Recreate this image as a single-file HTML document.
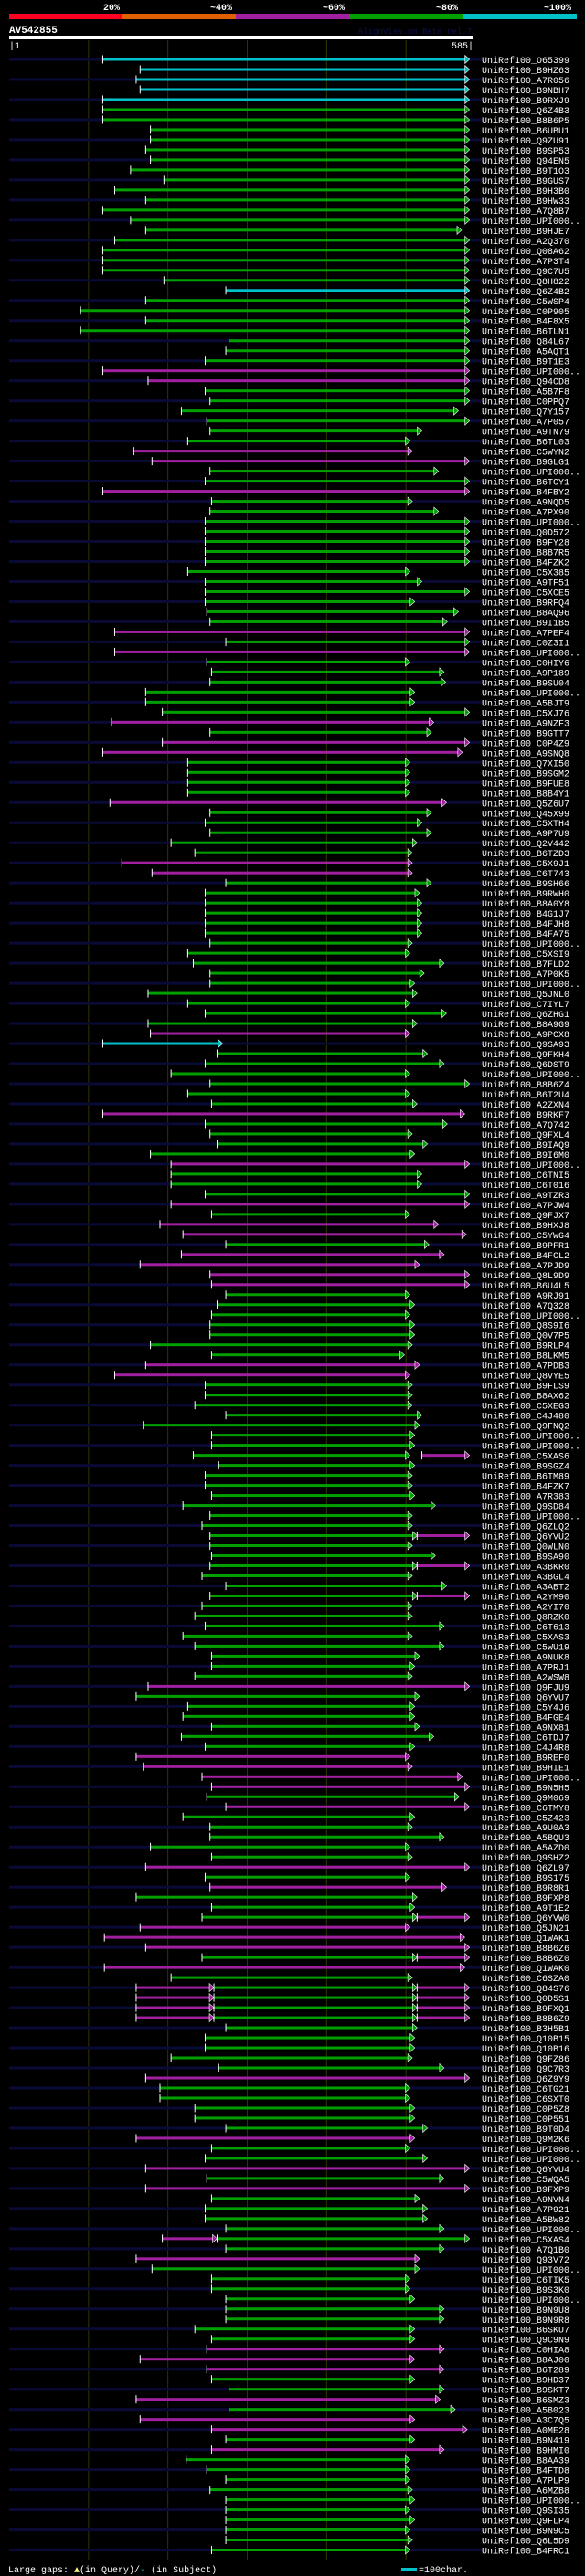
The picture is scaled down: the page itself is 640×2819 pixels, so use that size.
<!DOCTYPE html>
<html>
<head>
<meta charset="utf-8">
<style>
  html,body{margin:0;padding:0;background:#000;}
  body{width:640px;height:2819px;overflow:hidden;}
  svg{display:block;}
  text{font-family:"Liberation Mono","DejaVu Sans Mono",monospace;}
</style>
</head>
<body>
<svg id="chart" width="640" height="2819" viewBox="0 0 640 2819" xmlns="http://www.w3.org/2000/svg">
  <rect x="0" y="0" width="640" height="2819" fill="#000"/>
  <g>
    <rect x="10" y="15" width="124" height="6" fill="#ff0022"/>
    <rect x="134" y="15" width="124" height="6" fill="#e06000"/>
    <rect x="258" y="15" width="124" height="6" fill="#a020a0"/>
    <rect x="382" y="15" width="124" height="6" fill="#00a000"/>
    <rect x="506" y="15" width="125" height="6" fill="#00c0c8"/>
    <g font-size="10" font-weight="bold" fill="#fff">
      <text x="113" y="11">20%</text>
      <text x="230" y="11">~40%</text>
      <text x="353" y="11">~60%</text>
      <text x="477" y="11">~80%</text>
      <text x="595" y="11">~100%</text>
    </g>
  </g>
  <text x="10" y="36" font-size="11" font-weight="bold" fill="#fff">AV542855</text>
  <text x="516" y="37" font-size="9" fill="#101048" text-anchor="end">AlignView.pm Beta rel.7</text>
  <rect x="10" y="39" width="508" height="4" fill="#fff"/>
  <text x="10" y="53" font-size="10" fill="#fff">|1</text>
  <text x="518" y="53" font-size="10" fill="#fff" text-anchor="end">585|</text>
  <g id="grid"></g>
  <g id="rows"></g>
  <g>
    <text x="9" y="2815" font-size="10" fill="#fff">Large gaps: <tspan fill="#ffff80">▲</tspan>(in Query)/<tspan fill="#00c0c8">-</tspan> (in Subject)</text>
    <rect x="439" y="2810" width="17" height="3" fill="#00c0c8"/>
    <text x="458" y="2815" font-size="10" fill="#fff">=100char.</text>
  </g>
</svg>
<script>
const queryLength = 585;
const gridTicks = [100, 200, 300, 400, 500];
const names = ["O65399","B9HZ63","A7R056","B9NBH7","B9RXJ9","Q6Z4B3","B8B6P5","B6UBU1","Q9ZU91","B9SP53",
"Q94EN5","B9T1O3","B9GUS7","B9H3B0","B9HW33","A7Q8B7","UPI000..","B9HJE7","A2Q370","Q08A62",
"A7P3T4","Q9C7U5","Q8H822","Q6Z4B2","C5WSP4","C0P905","B4F8X5","B6TLN1","Q84L67","A5AQT1",
"B9T1E3","UPI000..","Q94CD8","A5B7F8","C0PPQ7","Q7Y157","A7P057","A9TN79","B6TL03","C5WYN2",
"B9GLG1","UPI000..","B6TCY1","B4FBY2","A9NQD5","A7PX90","UPI000..","Q0D572","B9FY28","B8B7R5",
"B4FZK2","C5X385","A9TF51","C5XCE5","B9RFQ4","B8AQ96","B9I1B5","A7PEF4","C0Z3I1","UPI000..",
"C0HIY6","A9P189","B9SU04","UPI000..","A5BJT9","C5XJ76","A9NZF3","B9GTT7","C0P4Z9","A9SNQ8",
"Q7XI50","B9SGM2","B9FUE8","B8B4Y1","Q5Z6U7","Q45X99","C5XTH4","A9P7U9","Q2V442","B6TZD3",
"C5X9J1","C6T743","B9SH66","B9RWH0","B8A0Y8","B4G1J7","B4FJH8","B4FA75","UPI000..","C5XSI9",
"B7FLD2","A7P0K5","UPI000..","Q5JNL0","C7IYL7","Q6ZHG1","B8A9G9","A9PCX8","Q9SA93","Q9FKH4",
"Q6DST9","UPI000..","B8B6Z4","B6T2U4","A2ZXN4","B9RKF7","A7Q742","Q9FXL4","B9IAQ9","B9I6M0",
"UPI000..","C6TNI5","C6T016","A9TZR3","A7PJW4","Q9FJX7","B9HXJ8","C5YWG4","B9PFR1","B4FCL2",
"A7PJD9","Q8L9D9","B6U4L5","A9RJ91","A7Q328","UPI000..","Q8S9I6","Q0V7P5","B9RLP4","B8LKM5",
"A7PDB3","Q8VYE5","B9FLS9","B8AX62","C5XEG3","C4J480","Q9FNQ2","UPI000..","UPI000..","C5XAS6",
"B9SGZ4","B6TM89","B4FZK7","A7R383","Q9SD84","UPI000..","Q6ZLQ2","Q6YVU2","Q0WLN0","B9SA90",
"A3BKR0","A3BGL4","A3ABT2","A2YM90","A2YI70","Q8RZK0","C6T613","C5XAS3","C5WU19","A9NUK8",
"A7PRJ1","A2WSW8","Q9FJU9","Q6YVU7","C5Y4J6","B4FGE4","A9NX81","C6TDJ7","C4J4R8","B9REF0",
"B9HIE1","UPI000..","B9N5H5","Q9M069","C6TMY8","C5Z423","A9U0A3","A5BQU3","A5AZD0","Q9SHZ2",
"Q6ZL97","B9S175","B9R8R1","B9FXP8","A9T1E2","Q6YVW0","Q5JN21","Q1WAK1","B8B6Z6","B8B6Z0",
"Q1WAK0","C6SZA0","Q84S76","Q0D5S1","B9FXQ1","B8B6Z9","B3H5B1","Q10B15","Q10B16","Q9FZ86",
"Q9C7R3","Q6Z9Y9","C6TG21","C6SXT0","C0P5Z8","C0P551","B9T0D4","Q9M2K6","UPI000..","UPI000..",
"Q6YVU4","C5WQA5","B9FXP9","A9NVN4","A7P921","A5BW82","UPI000..","C5XAS4","A7Q1B0","Q93V72",
"UPI000..","C6TIK5","B9S3K0","UPI000..","B9N9U8","B9N9R8","B6SKU7","Q9C9N9","C0HIA8","B8AJ00",
"B6T289","B9HD37","B9SKT7","B6SMZ3","A5B023","A3C7Q5","A0ME28","B9N419","B9HMI0","B8AA39",
"B4FTD8","A7PLP9","A6MZB8","UPI000..","Q9SI35","Q9FLP4","B9N9C5","Q6L5D9","B4FRC1"];
const starts = [118,165,160,165,118,118,118,178,178,172,
178,153,195,133,172,118,153,172,133,118,
118,118,195,273,172,90,172,90,277,273,
247,118,175,247,253,217,249,253,225,157,
180,253,247,118,255,253,247,247,247,247,
247,225,247,247,247,249,253,133,273,133,
249,255,253,172,172,193,129,253,193,118,
225,225,225,225,127,253,247,253,204,234,
142,180,273,247,247,247,247,247,253,225,
232,253,253,175,225,247,175,178,118,262,
247,204,253,225,255,118,247,253,262,178,
204,204,204,247,204,255,190,219,273,217,
165,253,255,273,262,255,253,253,178,255,
172,133,247,247,234,273,169,255,255,232,
264,247,247,255,219,253,243,253,253,255,
253,243,273,253,243,234,247,219,234,255,
255,234,175,160,225,219,255,217,247,160,
169,243,255,249,273,219,253,253,178,255,
172,247,253,160,255,243,165,120,172,243,
120,204,258,258,258,258,273,247,247,204,
264,172,190,190,234,234,273,160,255,247,
172,249,172,255,247,247,273,262,273,160,
180,255,255,273,273,273,234,255,249,165,
249,255,277,160,277,165,255,273,255,223,
249,273,253,273,273,273,273,273,255];
const ends = [580,580,580,580,580,580,580,580,580,580,
580,580,580,580,580,580,580,570,580,580,
580,580,580,580,580,580,580,580,580,580,
580,580,580,580,580,566,580,520,505,508,
580,541,580,580,508,541,580,580,580,580,
580,505,520,580,511,566,552,580,580,580,
505,548,550,511,511,580,535,532,580,571,
505,505,505,505,551,532,520,532,514,508,
508,508,532,517,520,520,520,520,508,505,
548,523,511,514,505,551,514,505,269,527,
548,505,580,505,514,574,552,508,527,511,
580,520,520,580,580,505,541,576,529,548,
517,580,580,505,511,505,511,511,508,498,
517,505,508,508,508,520,517,511,511,505,
511,508,508,511,537,508,508,514,508,537,
514,508,551,514,508,508,548,508,548,517,
511,508,580,517,511,511,517,535,511,505,
508,571,580,567,580,511,508,548,505,508,
580,505,551,514,511,514,505,574,580,514,
574,508,514,514,514,514,514,511,511,508,
548,580,505,505,511,511,527,511,505,527,
580,548,580,517,527,527,548,580,548,517,
517,505,505,511,548,548,511,511,548,511,
548,511,548,543,562,511,577,511,548,505,
505,505,508,511,505,511,505,508,505];
// identity band per row, run-length: colour letter + count
const bandRuns = ["c5","g18","c1","g7","p2","g6","p2","g2","p1","g13",
"p1","g1","p1","g6","p1","g1","p2","g4","p1","g5",
"p2","g15","p1","c1","g6","p1","g4","p1","g3","p1",
"g1","p2","g1","p4","g7","p2","g30","p1","g6","p4",
"g1","p1","g5","p1","g1","p1","g3","p3","g1","p1",
"g10","p1","g5","p1","g2","p1","g1","p1","g6","p1",
"g8","p3","g2","p1","g1","p2","g1","p1","g10"];
const extraSegments = [
  "139:520-580p", "147:514-580p", "150:514-580p", "153:514-580p", "185:514-580p", "189:514-580p",
  "192:160-258p", "192:514-580p", "193:160-258p", "193:514-580p",
  "194:160-258p", "194:514-580p", "195:160-258p", "195:514-580p",
  "217:193-262p"
];

const NS = "http://www.w3.org/2000/svg";
const X0 = 10, X1 = 518;
function xScale(r){ return X0 + r * (X1 - X0) / queryLength; }
function yScale(i){ return 65 + i * 10.99; }
const colorOf = {c:"#00c0c8", g:"#00a000", p:"#a020a0"};
const bands = [];
bandRuns.forEach(function(run){
  const n = parseInt(run.slice(1), 10);
  for (let k = 0; k < n; k++) bands.push(run[0]);
});

const grid = document.getElementById("grid");
gridTicks.forEach(function(t){
  const l = document.createElementNS(NS, "line");
  l.setAttribute("x1", xScale(t)); l.setAttribute("x2", xScale(t));
  l.setAttribute("y1", 44); l.setAttribute("y2", 2802);
  l.setAttribute("stroke", "#333300"); l.setAttribute("stroke-width", "1");
  
  
  grid.appendChild(l);
});

const rows = document.getElementById("rows");
function drawSegment(g, y, s, e, col){
  const xs = xScale(s), xe = xScale(e);
  const bar = document.createElementNS(NS, "rect");
  bar.setAttribute("x", xs); bar.setAttribute("y", y - 1.5);
  bar.setAttribute("width", Math.max(0, xe - xs - 4)); bar.setAttribute("height", 3);
  bar.setAttribute("fill", col);
  
  
  g.appendChild(bar);
  const tri = document.createElementNS(NS, "polygon");
  tri.setAttribute("points", (xe-5)+","+(y-4.5)+" "+xe+","+y+" "+(xe-5)+","+(y+4.5));
  tri.setAttribute("fill", col); tri.setAttribute("stroke", "#fff"); tri.setAttribute("stroke-width", "0.6");
  
  
  g.appendChild(tri);
  const tick = document.createElementNS(NS, "rect");
  tick.setAttribute("x", xs - 0.5); tick.setAttribute("y", y - 4.5);
  tick.setAttribute("width", 1); tick.setAttribute("height", 9);
  tick.setAttribute("fill", "#fff");
  
  
  g.appendChild(tick);
}

names.forEach(function(nm, i){
  const y = yScale(i);
  const g = document.createElementNS(NS, "g");
  
  
  if (i % 2 === 0) {
    const st = document.createElementNS(NS, "rect");
    st.setAttribute("x", 10); st.setAttribute("y", y - 1.5);
    st.setAttribute("width", 517); st.setAttribute("height", 3);
    st.setAttribute("fill", "#0a0a36");
    
    
    g.appendChild(st);
  }
  extraSegments.forEach(function(sdef){
    const parts = sdef.split(":");
    if (parseInt(parts[0], 10) !== i) return;
    const m = parts[1].match(/(\d+)-(\d+)([cgp])/);
    drawSegment(g, y, +m[1], +m[2], colorOf[m[3]]);
  });
  drawSegment(g, y, starts[i], ends[i], colorOf[bands[i]] || "#00a000");
  const t = document.createElementNS(NS, "text");
  t.setAttribute("x", 527); t.setAttribute("y", y + 4);
  t.setAttribute("font-size", "10"); t.setAttribute("fill", "#fff");
  t.textContent = "UniRef100_" + nm;
  
  
  g.appendChild(t);
  rows.appendChild(g);
});
</script>
</body>
</html>
